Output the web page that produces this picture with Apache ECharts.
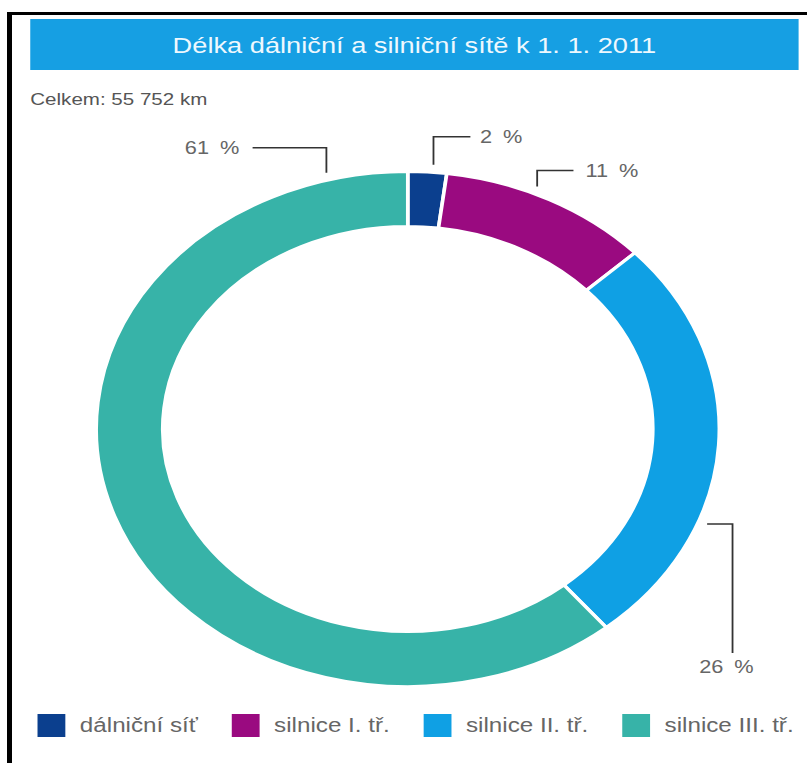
<!DOCTYPE html>
<html>
<head>
<meta charset="utf-8">
<script src="https://cdn.jsdelivr.net/npm/echarts@6/dist/echarts.min.js"></script>
<style>
html, body { margin: 0; padding: 0; background: #fff; overflow: hidden; }
#stage { position: relative; width: 807px; height: 763px; overflow: hidden; background: #fff; }
#frame { position: absolute; left: 7px; top: 12px; width: 900px; height: 900px;
         border-left: 5px solid #000; border-top: 3px solid #000; }
#chart { position: absolute; left: 0; top: 0; width: 667px; height: 763px;
         transform: scaleX(1.21); transform-origin: 0 0; }
</style>
</head>
<body>
<div id="stage"><div id="frame"></div><div id="chart"></div></div>
<script>
// ---- data ----
const titleText = 'Délka dálniční a silniční sítě k 1. 1. 2011';
const totalLabelPrefix = 'Celkem: ';
const categories = ['dálniční síť', 'silnice I. tř.', 'silnice II. tř.', 'silnice III. tř.'];
const lengthsKm = [1115, 6133, 14496, 34008];
const sliceColors = ['#0b3f8e', '#9a0a80', '#0fa0e4', '#37b3a8'];

// ---- layout constants (local, unscaled coordinates) ----
const FONT = '"Liberation Sans", Arial, sans-serif';
const CX = 337, CY = 429, R_IN = 202.5, R_OUT = 257.5;
const leaderSpec = [
  { angle: 4.6,   legs: [[0, -28], [30.5, 0]], text: [8, 0],   align: 'left' },
  { angle: 23.8,  legs: [[0, -16], [30, 0]],   text: [10, 0],  align: 'left' },
  { angle: 111,   legs: [[21, 0], [0, 129]],   text: [-5, 14], align: 'center' },
  { angle: 345.3, legs: [[0, -25], [-61, 0]],  text: [-11, 0], align: 'right' }
];

const total = lengthsKm.reduce((a, b) => a + b, 0);
const totalText = totalLabelPrefix + String(total).replace(/\B(?=(\d{3})+(?!\d))/g, ' ') + ' km';

const chart = echarts.init(document.getElementById('chart'), null, { renderer: 'svg' });
chart.setOption({
  animation: false,
  color: sliceColors,
  textStyle: { fontFamily: FONT },
  graphic: [
    { type: 'rect', shape: { x: 25, y: 19, width: 635, height: 51 },
      style: { fill: '#169fe3' }, silent: true },
    { type: 'text', x: 342.5, y: 45,
      style: { text: titleText, fill: '#eef8fe', font: '22.5px ' + FONT,
               textAlign: 'center', textVerticalAlign: 'middle' }, silent: true },
    { type: 'text', x: 25, y: 99,
      style: { text: totalText, fill: '#555', font: '17px ' + FONT,
               textAlign: 'left', textVerticalAlign: 'middle' }, silent: true }
  ],
  legend: {
    data: categories,
    left: 24, top: 707,
    icon: 'rect', itemWidth: 25, itemHeight: 25, itemGap: 26,
    textStyle: { fontSize: 20, color: '#666', fontFamily: FONT, padding: [0, 0, 0, 6] },
    selectedMode: false
  },
  series: [{
    type: 'pie',
    center: [CX, CY],
    radius: [R_IN, R_OUT],
    startAngle: 90,
    clockwise: true,
    avoidLabelOverlap: false,
    silent: true,
    itemStyle: { borderColor: '#fff', borderWidth: 3 },
    label: {
      show: true, position: 'outside',
      formatter: p => Math.round(p.percent) + '\u2002%',
      fontSize: 18, color: '#666', fontFamily: FONT
    },
    labelLine: { show: true, lineStyle: { color: '#333', width: 1.5 } },
    labelLayout: function (params) {
      const s = leaderSpec[params.dataIndex];
      const a = s.angle * Math.PI / 180, r = 256 + 9;
      const p1 = [CX + r * Math.sin(a), CY - r * Math.cos(a)];
      const p2 = [p1[0] + s.legs[0][0], p1[1] + s.legs[0][1]];
      const p3 = [p2[0] + s.legs[1][0], p2[1] + s.legs[1][1]];
      return { x: p3[0] + s.text[0], y: p3[1] + s.text[1], align: s.align,
               verticalAlign: 'middle', labelLinePoints: [p1, p2, p3] };
    },
    data: categories.map((name, i) => ({ name: name, value: lengthsKm[i] }))
  }]
});
</script>
</body>
</html>
